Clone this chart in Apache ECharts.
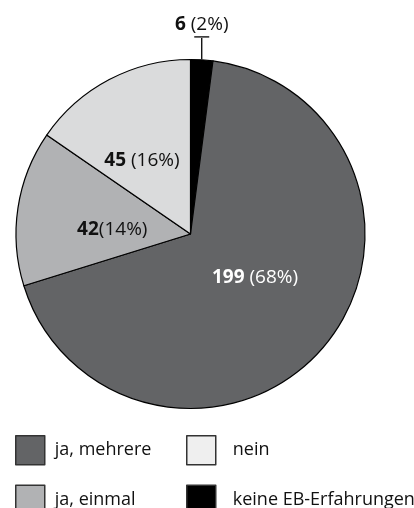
<!DOCTYPE html>
<html>
<head>
<meta charset="utf-8">
<script src="https://cdn.jsdelivr.net/npm/echarts@6/dist/echarts.min.js"></script>
<style>html,body{margin:0;padding:0;background:#fff}#c{width:414px;height:508px}</style>
</head>
<body>
<div id="c"></div>
<script>
const categories = ['keine EB-Erfahrungen', 'ja, mehrere', 'ja, einmal', 'nein'];
const values = [6, 199, 42, 45];
const percentLabels = [2, 68, 14, 16];
const separators = [' ', ' ', '', ' '];
const sliceColors = ['#000000', '#636466', '#b1b2b4', '#dadbdc'];
const legendColumn1 = ['ja, mehrere', 'ja, einmal'];
const legendColumn2 = ['nein', 'keine EB-Erfahrungen'];
const legendColors = {'ja, mehrere': '#636466', 'ja, einmal': '#b1b2b4', 'nein': '#efefef', 'keine EB-Erfahrungen': '#000000'};

const FF = '"Open Sans", sans-serif';
const FS = 19;
const TXT = '#111111';
const chart = echarts.init(document.getElementById('c'), null, {renderer: 'canvas'});

const labelOffsets = [[0, 0], [-4.5, -15], [11, 9], [-6.5, 6]];

const data = categories.map((name, i) => {
  const white = i === 1;
  const top = i === 0;
  const v = top ? 'vt' : (white ? 'vw' : 'v');
  const p = top ? 'pt' : (white ? 'pw' : 'p');
  let fmt = '{' + v + '|' + values[i] + '}{' + p + '|' + separators[i] + '(' + percentLabels[i] + '%)}';
  if (top) fmt += '\n{cap|}\n{stem|}';
  return {
    name: name,
    value: values[i],
    itemStyle: {color: sliceColors[i]},
    label: {formatter: fmt, offset: labelOffsets[i]}
  };
});

function legendData(list) {
  return list.map(n => ({name: n, itemStyle: {color: legendColors[n]}}));
}

const legendCommon = {
  orient: 'vertical',
  top: 435,
  height: 150,
  padding: 0,
  itemWidth: 29,
  itemHeight: 29,
  itemGap: 19,
  icon: 'rect',
  selectedMode: false,
  itemStyle: {borderColor: '#333', borderWidth: 1.5}
};

chart.setOption({
  animation: false,
  backgroundColor: '#fff',
  legend: [
    Object.assign({}, legendCommon, {left: 15, data: legendData(legendColumn1),
      textStyle: {fontFamily: FF, fontSize: 18, color: TXT, padding: [0, 0, 0, 5]}}),
    Object.assign({}, legendCommon, {left: 186, data: legendData(legendColumn2),
      textStyle: {fontFamily: FF, fontSize: 18, color: TXT, padding: [0, 0, 0, 12]}})
  ],
  series: [{
    type: 'pie',
    center: [190.5, 234],
    radius: 174.5,
    startAngle: 90,
    clockwise: true,
    avoidLabelOverlap: false,
    emphasis: {disabled: true},
    itemStyle: {borderColor: '#000', borderWidth: 1.2},
    labelLine: {show: false},
    label: {
      show: true,
      position: 'inside',
      rich: {
        v: {fontFamily: FF, fontSize: FS, fontWeight: 'bold', color: TXT, align: 'center'},
        p: {fontFamily: FF, fontSize: FS, color: TXT, align: 'center'},
        vw: {fontFamily: FF, fontSize: FS, fontWeight: 'bold', color: '#ffffff', align: 'center'},
        pw: {fontFamily: FF, fontSize: FS, color: '#ffffff', align: 'center'},
        vt: {fontFamily: FF, fontSize: FS, fontWeight: 'bold', color: TXT, align: 'center', lineHeight: 22},
        pt: {fontFamily: FF, fontSize: FS, color: TXT, align: 'center', lineHeight: 22},
        cap: {width: 15, height: 1.3, backgroundColor: '#000', align: 'center', lineHeight: 2},
        stem: {width: 1.3, height: 21, backgroundColor: '#000', align: 'center', lineHeight: 21}
      }
    },
    labelLayout: function (params) {
      if (params.dataIndex === 0) {
        return {
          x: params.rect.x + params.rect.width / 2,
          y: params.rect.y,
          align: 'center',
          verticalAlign: 'bottom'
        };
      }
      return {};
    },
    data: data
  }]
});
</script>
</body>
</html>
